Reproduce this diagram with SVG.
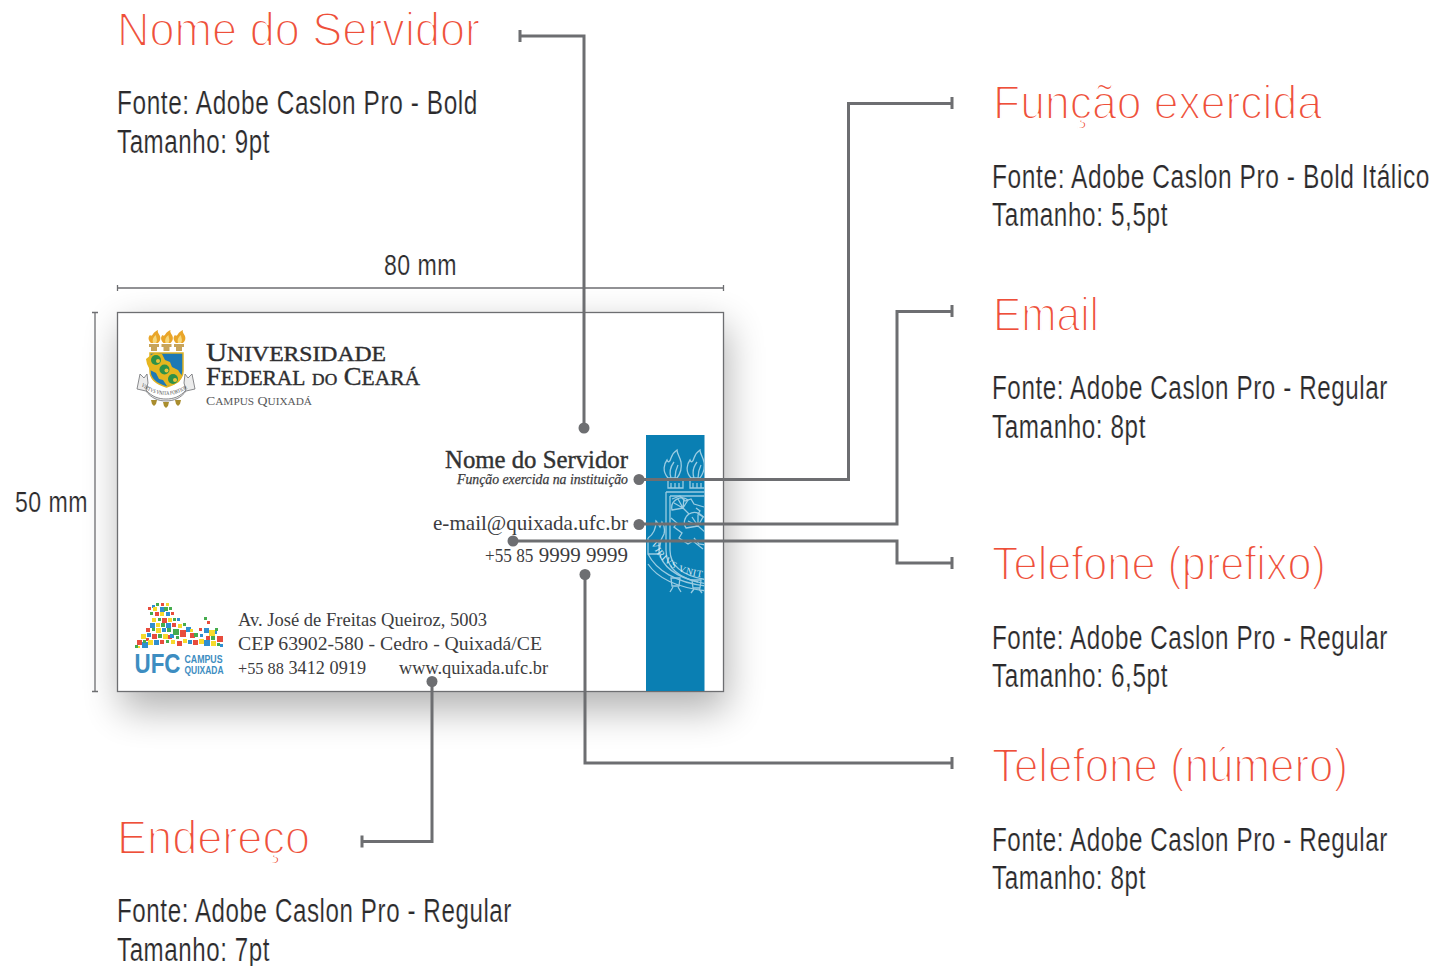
<svg xmlns="http://www.w3.org/2000/svg" width="1437" height="966" viewBox="0 0 1437 966">
<style>
.h{font-family:"Liberation Sans",sans-serif;font-size:48.500px;fill:#ee4f3a;stroke:#fff;stroke-width:1.800px;stroke-linejoin:round}
.b{font-family:"Liberation Sans Narrow","Liberation Sans",sans-serif;font-size:33px;letter-spacing:.8px;fill:#2b2a2c;stroke:#fff;stroke-width:.2px}
.d{font-family:"Liberation Sans Narrow","Liberation Sans",sans-serif;font-size:29px;letter-spacing:.6px;fill:#2b2a2c;stroke:#fff;stroke-width:.2px}
.s{font-family:"Liberation Serif",serif;fill:#3c3c3e}
.c{fill:none;stroke:#6d6e71;stroke-width:3}
.t{fill:none;stroke:#6d6e71;stroke-width:1.3}
.e{fill:none;stroke:#9accE2;stroke-width:1.300}
.dot{fill:#6d6e71}
</style>
<defs>
<filter id="sh" x="-20%" y="-20%" width="140%" height="145%"><feGaussianBlur stdDeviation="19"/></filter>
<clipPath id="band"><rect x="646" y="435" width="58.500" height="256"/></clipPath>
<path id="rb" d="M651 543Q664 574 708 578"/>
<path id="rc" d="M141 386Q166 404 191 386"/>
</defs>
<g id="card">
<rect x="121" y="326" width="606" height="384" fill="#000" opacity=".3" filter="url(#sh)"/>
<rect x="117.500" y="312.500" width="606" height="379" fill="#fff" stroke="#6d6e71" stroke-width="1.300"/>
<rect x="646" y="435" width="58.500" height="256" fill="#0a7fb3"/>
<g clip-path="url(#band)" class="e">
<path d="M668 478c-6-7-4-14-1-18 1 3 3 2 4-2 1-3 3-6 6-8 0 4 3 7 4 12 1 6-1 12-4 16zM671 478c-2-6 0-12 3-16M675 478c0-5 1-9 3-13"/>
<path d="M691 478c-6-7-4-14-1-18 1 3 3 2 4-2 1-3 3-6 6-8 0 4 3 7 4 12 1 6-1 12-4 16zM694 478c-2-6 0-12 3-16M698 478c0-5 1-9 3-13"/>
<path d="M668 480h15v8h-15zM690 480h15v8h-15zM671 483v5M675 483v5M679 483v5M693 483v5M697 483v5M701 483v5"/>
<path d="M666 492h42M666 492v58c0 18 14 30 42 34M670 496h38M670 496v54c0 15 12 26 38 30"/>
<path d="M672 499l8-3 5 5 6-2 3 5 10 3M671 518l6 5-3 4 8 6-3 5 9 6 5-3 10 8M696 508l4 3-2 3 8 4M694 538l5 6 7 1"/>
<path d="M672 510a10 10 0 0 1 16-10l-5 8zM672 510l11-2M674 503l9 5M678 499l5 9M684 498l-1 10M688 500l-5 8M683 508l6 6"/>
<path d="M686 528a10 10 0 0 1 17-11l-5 9zM686 528l12-2M688 521l10 5M692 517l6 9M698 515v11M698 526l7 6"/>
<path d="M648 538c6-4 8-10 8-17 2 2 3 4 4 6l2-5c2 3 3 8 2 12l-3 6-2 12c3 13 14 24 39 30M648 538v16h11v-14M648 554c8 16 28 29 59 32M648 564c8 12 24 23 59 27"/>
<path d="M671 578h9l-1 8h-7zM692 580h9l-1 8h-7zM673 587l-3 5M678 587l3 5M694 589l-3 4M699 589l3 4"/>
</g>
<text font-family="Liberation Serif,serif" font-size="9.500" fill="#d5e9f3" letter-spacing=".8" clip-path="url(#band)"><textPath href="#rb">VIRIVS VNIT</textPath></text>
</g>
<g id="ufc-crest">
<path d="M150 353h33v18c0 8-7 13-16.500 16-10-3-16.500-8-16.500-16z" fill="#1d79b5" stroke="#e0b325" stroke-width="1.500"/>
<path d="M151 355l4-2 7 1 3 6 5 2 2 5 6 3 4 6-3 6-6 3-6 1-4-6-4-1-3-6-6-3-3-6-1-5z" fill="#e6b61f"/>
<g fill="#2f9148"><circle cx="156" cy="360" r="5"/><circle cx="164.500" cy="369.500" r="5"/><circle cx="173" cy="379" r="5"/></g>
<g fill="#eac53a"><circle cx="158" cy="361" r="2"/><circle cx="166.500" cy="370.500" r="2"/><circle cx="175" cy="380" r="2"/></g>
<g fill="#e9a528"><path d="M151 343c-3-3-3-6-1-8 1 1 2 1 3-1s3-3 5-4c-1 2 1 4 2 6 1 3 0 5-2 7z"/><path d="M163.500 343c-3-3-3-6-1-8 1 1 2 1 3-1s3-3 5-4c-1 2 1 4 2 6 1 3 0 5-2 7z"/><path d="M176 343c-3-3-3-6-1-8 1 1 2 1 3-1s3-3 5-4c-1 2 1 4 2 6 1 3 0 5-2 7z"/></g>
<g fill="#f6d77a"><path d="M153 343c-1-3 0-6 3-8 0 3 2 5 0 8zM165.500 343c-1-3 0-6 3-8 0 3 2 5 0 8zM178 343c-1-3 0-6 3-8 0 3 2 5 0 8z"/></g>
<path d="M149 344h10v3h-2v4h-6v-4h-2zM161.500 344h10v3h-2v4h-6v-4h-2zM174 344h10v3h-2v4h-6v-4h-2z" fill="#c8a45a"/>
<path d="M137 389l3-15 4 4 3-4 1 9-2 7c6 7 13 9 20 9s14-2 20-9l-2-7 1-9 3 4 4-4 3 15-9 2c-5 7-12 10-20 10s-15-3-20-10z" fill="#ececec" stroke="#6f7073" stroke-width=".8"/>
<text font-family="Liberation Serif,serif" font-size="5.500" fill="#444" textLength="50" lengthAdjust="spacingAndGlyphs"><textPath href="#rc">VIRTVS VNITA FORTIOR</textPath></text>
<g fill="#a98d2e"><path d="M151 400h6l-1 4-2 2-2-2zM163 402h6l-1 4-2 2-2-2zM175 400h6l-1 4-2 2-2-2z"/></g>
</g>
<g id="ufc-name" class="s">
<text x="206" y="361" font-size="26" fill="#2e2e30" stroke="#2e2e30" stroke-width=".4" textLength="180" lengthAdjust="spacingAndGlyphs">U<tspan font-size="21">NIVERSIDADE</tspan></text>
<text x="206" y="385" font-size="26" fill="#2e2e30" stroke="#2e2e30" stroke-width=".4" textLength="214" lengthAdjust="spacingAndGlyphs">F<tspan font-size="21">EDERAL</tspan> <tspan font-size="17">DO</tspan> C<tspan font-size="21">EARÁ</tspan></text>
<text x="206" y="405" font-size="13.500" fill="#58595b" textLength="106" lengthAdjust="spacingAndGlyphs">C<tspan font-size="11">AMPUS</tspan> Q<tspan font-size="11">UIXADÁ</tspan></text>
</g>
<g id="servidor" class="s">
<text x="445" y="468" font-size="25" fill="#333" stroke="#333" stroke-width=".4" textLength="183" lengthAdjust="spacingAndGlyphs">Nome do Servidor</text>
<text x="457" y="484" font-size="14" font-style="italic" fill="#3a3a3c" stroke="#3a3a3c" stroke-width=".25" textLength="171" lengthAdjust="spacingAndGlyphs">Função exercida na instituição</text>
<text x="433" y="530" font-size="21" textLength="195" lengthAdjust="spacingAndGlyphs">e-mail@quixada.ufc.br</text>
<text x="485" y="562" font-size="22" textLength="143" lengthAdjust="spacingAndGlyphs"><tspan font-size="18">+55 85</tspan> 9999 9999</text>
</g>
<g id="endereco-cartao" class="s" font-size="19">
<text x="238" y="626" textLength="249" lengthAdjust="spacingAndGlyphs">Av. José de Freitas Queiroz, 5003</text>
<text x="238" y="650" textLength="304" lengthAdjust="spacingAndGlyphs">CEP 63902-580 - Cedro - Quixadá/CE</text>
<text x="238" y="674" textLength="128" lengthAdjust="spacingAndGlyphs"><tspan font-size="17">+55 88</tspan> 3412 0919</text>
<text x="399" y="674" textLength="149" lengthAdjust="spacingAndGlyphs">www.quixada.ufc.br</text>
</g>
<g id="ufc-campus">
<g font-family="Liberation Sans,sans-serif" font-weight="700" fill="#3d8dc1">
<text x="134.500" y="673" font-size="28" textLength="46" lengthAdjust="spacingAndGlyphs">UFC</text>
</g>
<g font-family="Liberation Sans Narrow,Liberation Sans,sans-serif" font-weight="700" fill="#3d8dc1">
<text x="184.500" y="662.500" font-size="11.500" textLength="38" lengthAdjust="spacingAndGlyphs">CAMPUS</text>
<text x="184.500" y="673.500" font-size="11.500" textLength="39" lengthAdjust="spacingAndGlyphs">QUIXADA</text>
</g>
<g id="mosaic">
<path fill="#e84c3d" d="M161 603h3v3h-3zM148 607h3v3h-3zM155 612h4v4h-4zM171 612h3v3h-3zM162 618h5v5h-5zM172 623h4v4h-4zM146 628h4v4h-4zM180 630h6v7h-6zM199 628h3v3h-3zM152 634h5v5h-5zM168 635h4v4h-4zM190 633h5v5h-5zM206 636h4v4h-4zM137 640h5v5h-5zM160 640h4v4h-4zM177 641h5v5h-5zM193 640h5v5h-5zM217 636h6v6h-6zM207 621h3v3h-3zM146 638h3v3h-3z"/>
<path fill="#2f8fd0" d="M160 607h5v5h-5zM166 612h4v4h-4zM177 618h3v3h-3zM150 623h5v5h-5zM166 623h5v5h-5zM162 628h4v4h-4zM186 627h5v5h-5zM204 628h5v5h-5zM147 633h4v4h-4zM170 634h4v4h-4zM142 642h6v6h-6zM154 640h5v5h-5zM188 640h4v4h-4zM204 640h6v6h-6zM200 634h3v3h-3zM214 631h3v3h-3zM152 605h3v3h-3zM220 644h3v3h-3z"/>
<path fill="#f7da2c" d="M166 603h3v3h-3zM153 607h4v4h-4zM160 612h4v4h-4zM152 618h4v4h-4zM168 618h4v4h-4zM156 623h4v4h-4zM178 624h4v4h-4zM156 628h5v5h-5zM190 629h3v3h-3zM209 630h6v6h-6zM141 634h5v5h-5zM163 634h5v5h-5zM148 640h5v5h-5zM171 640h4v4h-4zM183 639h4v4h-4zM199 639h5v5h-5zM211 641h5v5h-5zM137 646h3v2h-3z"/>
<path fill="#45ac4e" d="M156 603h3v3h-3zM164 607h4v4h-4zM169 607h3v3h-3zM150 612h3v3h-3zM158 618h3v3h-3zM173 618h3v3h-3zM161 623h4v4h-4zM183 623h3v3h-3zM204 617h3v3h-3zM152 628h3v3h-3zM167 628h4v4h-4zM173 629h6v6h-6zM194 633h4v4h-4zM211 636h4v4h-4zM158 634h4v4h-4zM143 640h3v3h-3zM166 640h3v3h-3zM176 636h3v3h-3zM215 628h3v3h-3zM135 645h3v3h-3zM217 643h3v3h-3z"/>
</g>
</g>
<g id="dimensoes">
<path class="t" d="M117.500 285v6M117.500 288H723.500M723.500 285v6M92 312.500h6M95 312.500V691.500M92 691.500h6"/>
<text class="d" x="384" y="275" textLength="73" lengthAdjust="spacingAndGlyphs">80 mm</text>
<text class="d" x="15" y="512" textLength="73" lengthAdjust="spacingAndGlyphs">50 mm</text>
</g>
<g id="connectors">
<path class="c" d="M520 36H584V428M520 30v12"/>
<path class="c" d="M640 479.500H848.500V103.500H952M952 97v12"/>
<path class="c" d="M640 524H897V311.500H952M952 305v12"/>
<path class="c" d="M513 541H897V563H952M952 557v12"/>
<path class="c" d="M585 575V763H952M952 757v12"/>
<path class="c" d="M432 682V841.500H362M362 835.500v12"/>
<g class="dot"><circle cx="584" cy="428" r="5.500"/><circle cx="639" cy="479.500" r="5.500"/><circle cx="639" cy="524.500" r="5.500"/><circle cx="513" cy="541" r="5.500"/><circle cx="585" cy="574.500" r="5.500"/><circle cx="432" cy="681.500" r="5.500"/></g>
</g>
<g id="label-nome"><text class="h" x="117" y="46" textLength="363" lengthAdjust="spacingAndGlyphs">Nome do Servidor</text><text class="b" x="117" y="114" textLength="361" lengthAdjust="spacingAndGlyphs">Fonte: Adobe Caslon Pro - Bold</text><text class="b" x="117" y="153" textLength="153" lengthAdjust="spacingAndGlyphs">Tamanho: 9pt</text></g>
<g id="label-funcao"><text class="h" x="993" y="119" textLength="329" lengthAdjust="spacingAndGlyphs">Função exercida</text><text class="b" transform="translate(992 188) scale(.75 1)" textLength="584" lengthAdjust="spacingAndGlyphs">Fonte: Adobe Caslon Pro - Bold Itálico</text><text class="b" x="992" y="226" textLength="176" lengthAdjust="spacingAndGlyphs">Tamanho: 5,5pt</text></g>
<g id="label-email"><text class="h" x="993" y="331" textLength="106" lengthAdjust="spacingAndGlyphs">Email</text><text class="b" transform="translate(992 399) scale(.75 1)" textLength="528" lengthAdjust="spacingAndGlyphs">Fonte: Adobe Caslon Pro - Regular</text><text class="b" x="992" y="438" textLength="154" lengthAdjust="spacingAndGlyphs">Tamanho: 8pt</text></g>
<g id="label-prefixo"><text class="h" x="992" y="580" textLength="334" lengthAdjust="spacingAndGlyphs">Telefone (prefixo)</text><text class="b" transform="translate(992 649) scale(.75 1)" textLength="528" lengthAdjust="spacingAndGlyphs">Fonte: Adobe Caslon Pro - Regular</text><text class="b" x="992" y="687" textLength="176" lengthAdjust="spacingAndGlyphs">Tamanho: 6,5pt</text></g>
<g id="label-numero"><text class="h" x="992" y="782" textLength="356" lengthAdjust="spacingAndGlyphs">Telefone (número)</text><text class="b" transform="translate(992 851) scale(.75 1)" textLength="528" lengthAdjust="spacingAndGlyphs">Fonte: Adobe Caslon Pro - Regular</text><text class="b" x="992" y="889" textLength="154" lengthAdjust="spacingAndGlyphs">Tamanho: 8pt</text></g>
<g id="label-endereco"><text class="h" x="117" y="854" textLength="193" lengthAdjust="spacingAndGlyphs">Endereço</text><text class="b" x="117" y="922" textLength="395" lengthAdjust="spacingAndGlyphs">Fonte: Adobe Caslon Pro - Regular</text><text class="b" x="117" y="961" textLength="153" lengthAdjust="spacingAndGlyphs">Tamanho: 7pt</text></g>
</svg>
